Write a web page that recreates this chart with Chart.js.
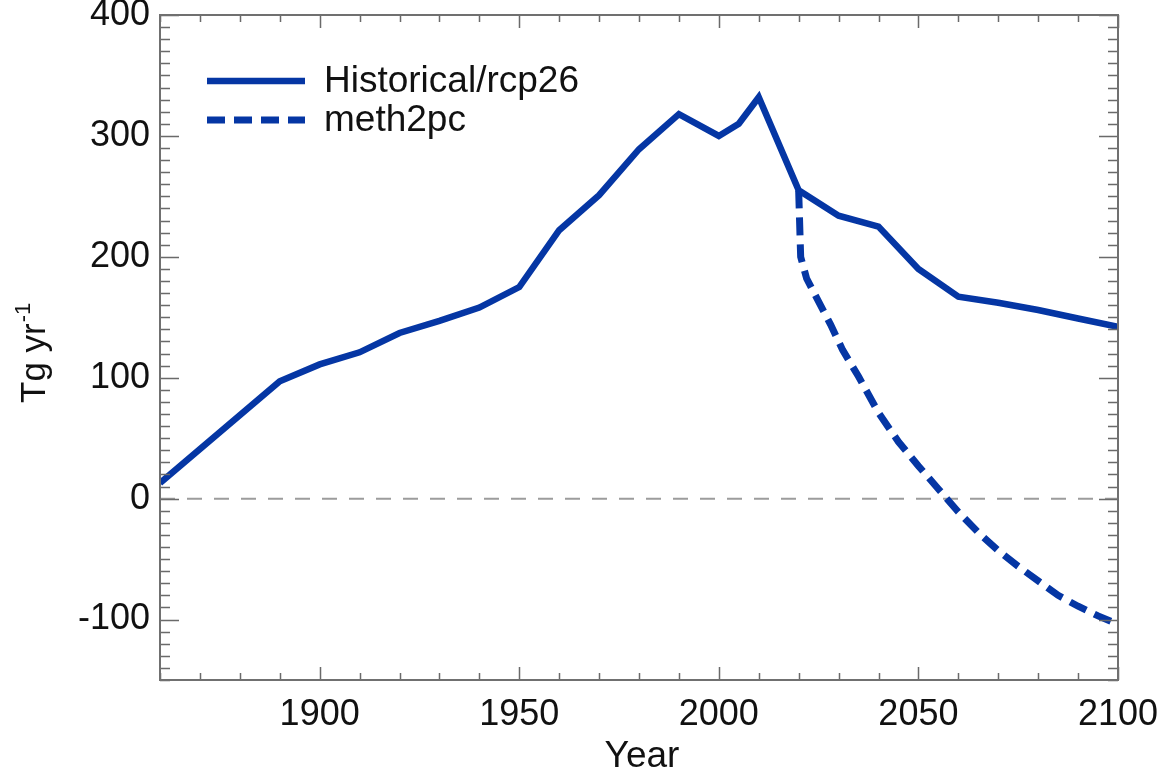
<!DOCTYPE html>
<html>
<head>
<meta charset="utf-8">
<script src="https://cdn.jsdelivr.net/npm/chart.js@4.4.1/dist/chart.umd.min.js"></script>
<style>
  body { margin: 0; background: #fff; }
  #wrap { width: 1167px; height: 773px; }
</style>
</head>
<body>
<div id="wrap"><canvas id="chart" width="1167" height="773"></canvas></div>
<script>
// Historical / RCP2.6 emissions, Tg per year
const histYears = [1860, 1890, 1900, 1910, 1920, 1930, 1940, 1950, 1960, 1970, 1980, 1990, 2000, 2005, 2010,
                   2020, 2030, 2040, 2050, 2060, 2070, 2080, 2090, 2100];
const histValues = [13, 97, 111, 121, 137, 147, 158, 175, 222, 251, 289, 318, 300, 310, 332,
                    255, 234, 225, 190, 167, 162, 156, 149, 142];

// meth2pc scenario (branches off in 2020)
const methYears = [2020, 2020.5, 2022, 2025, 2028, 2031, 2035, 2040, 2045, 2050, 2055,
                   2060, 2065, 2070, 2075, 2080, 2085, 2090, 2095, 2100];
const methValues = [255, 200, 182, 163, 144, 123, 101, 71, 47, 27, 8,
                    -11, -28, -43, -56, -68, -80, -89, -97, -104];

const seriesLabels = ['Historical/rcp26', 'meth2pc'];
const xTickValues = [1900, 1950, 2000, 2050, 2100];
const yTickValues = [-100, 0, 100, 200, 300, 400];

const lineColor = '#0536a4';
const fontFamily = '"Liberation Sans", Arial, Helvetica, sans-serif';

function toPoints(xs, ys) {
    return xs.map(function (v, i) { return { x: v, y: ys[i] }; });
}

// frame with inward ticks, zero line, legend and axis titles
const framePlugin = {
    id: 'frame',
    beforeDatasetsDraw(chart) {
        const ctx = chart.ctx, a = chart.chartArea;
        const y0 = chart.scales.y.getPixelForValue(0);
        ctx.save();
        ctx.strokeStyle = '#9c9c9c';
        ctx.lineWidth = 2;
        ctx.setLineDash([15, 12]);
        ctx.beginPath();
        ctx.moveTo(a.left, y0);
        ctx.lineTo(a.right, y0);
        ctx.stroke();
        ctx.restore();
    },
    afterDatasetsDraw(chart) {
        const ctx = chart.ctx, a = chart.chartArea;
        const x = chart.scales.x, y = chart.scales.y;
        ctx.save();

        // ticks
        ctx.strokeStyle = '#6a6a6a';
        ctx.lineWidth = 1.5;
        ctx.beginPath();
        for (let v = x.min; v <= x.max; v += 10) {
            const px = Math.round(x.getPixelForValue(v)) + 0.5;
            const len = v % 50 === 0 ? 13 : 7;
            ctx.moveTo(px, a.bottom); ctx.lineTo(px, a.bottom - len);
            ctx.moveTo(px, a.top); ctx.lineTo(px, a.top + len);
        }
        for (let v = y.min; v <= y.max; v += 10) {
            const py = Math.round(y.getPixelForValue(v)) + 0.5;
            const len = v % 100 === 0 ? 19 : 10;
            ctx.moveTo(a.left, py); ctx.lineTo(a.left + len, py);
            ctx.moveTo(a.right, py); ctx.lineTo(a.right - len, py);
        }
        ctx.stroke();

        // frame
        ctx.strokeStyle = '#707070';
        ctx.lineWidth = 2;
        ctx.strokeRect(a.left, a.top, a.right - a.left, a.bottom - a.top);

        // legend
        const ds = chart.data.datasets;
        ctx.font = '37px ' + fontFamily;
        ctx.fillStyle = '#111';
        ctx.textBaseline = 'middle';
        ds.forEach(function (d, i) {
            const ly = 81 + i * 39;
            ctx.strokeStyle = d.borderColor;
            ctx.lineWidth = d.borderWidth;
            ctx.setLineDash(d.borderDash || []);
            ctx.beginPath();
            ctx.moveTo(207, ly);
            ctx.lineTo(305, ly);
            ctx.stroke();
            ctx.fillText(d.label, 324, ly + 1);
        });
        ctx.setLineDash([]);

        // x title
        ctx.font = '37px ' + fontFamily;
        ctx.textAlign = 'center';
        ctx.textBaseline = 'alphabetic';
        ctx.fillText('Year', (a.left + a.right) / 2 + 3, 767);

        // y title with superscript
        ctx.font = '35px ' + fontFamily;
        ctx.translate(45, 403);
        ctx.rotate(-Math.PI / 2);
        ctx.textAlign = 'left';
        ctx.fillText('Tg yr', 0, 0);
        const w = ctx.measureText('Tg yr').width;
        ctx.font = '22px ' + fontFamily;
        ctx.fillText('-1', w + 1, -15);
        ctx.restore();
    }
};

const ctx = document.getElementById('chart').getContext('2d');
const chart = new Chart(ctx, {
    type: 'line',
    data: {
        datasets: [
            {
                label: seriesLabels[0],
                data: toPoints(histYears, histValues),
                borderColor: lineColor,
                borderWidth: 6.5,
                pointRadius: 0,
                tension: 0,
                borderJoinStyle: 'miter'
            },
            {
                label: seriesLabels[1],
                data: toPoints(methYears, methValues),
                borderColor: lineColor,
                borderWidth: 7,
                borderDash: [18, 9],
                pointRadius: 0,
                tension: 0
            }
        ]
    },
    options: {
        responsive: false,
        animation: false,
        devicePixelRatio: 1,
        layout: { padding: { top: 15, right: 49, left: 0, bottom: 0 } },
        plugins: {
            legend: { display: false },
            tooltip: { enabled: false }
        },
        scales: {
            x: {
                type: 'linear',
                min: 1860,
                max: 2100,
                grid: { display: false, drawTicks: false },
                border: { display: false },
                afterBuildTicks: function (scale) {
                    scale.ticks = xTickValues.map(function (v) { return { value: v }; });
                },
                afterFit: function (scale) {
                    scale.height = 93;
                    scale.paddingLeft = 0;
                    scale.paddingRight = 0;
                },
                ticks: {
                    padding: 13,
                    maxRotation: 0,
                    color: '#111',
                    font: { family: fontFamily, size: 36 },
                    callback: function (v) { return String(v); }
                }
            },
            y: {
                min: -150,
                max: 400,
                grid: { display: false, drawTicks: false },
                border: { display: false },
                afterBuildTicks: function (scale) {
                    scale.ticks = yTickValues.map(function (v) { return { value: v }; });
                },
                afterFit: function (scale) {
                    scale.width = 160;
                    scale.paddingTop = 0;
                    scale.paddingBottom = 0;
                },
                ticks: {
                    padding: 10,
                    color: '#111',
                    font: { family: fontFamily, size: 36 }
                }
            }
        }
    },
    plugins: [framePlugin]
});
</script>
</body>
</html>
